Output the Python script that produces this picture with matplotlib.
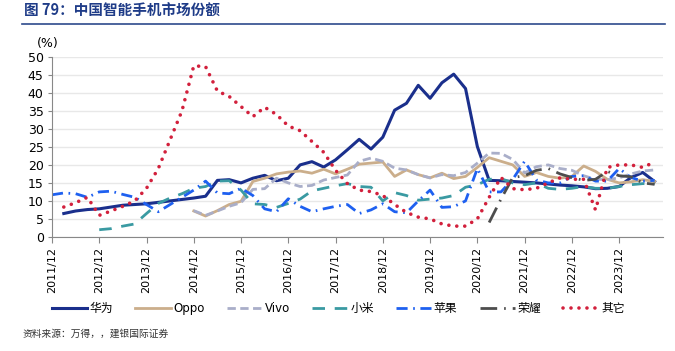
import numpy as np
import pandas as pd
import matplotlib
matplotlib.use("Agg")
import matplotlib.pyplot as plt
from matplotlib.lines import Line2D

plt.rcParams['font.family'] = ['DejaVu Sans', 'Noto Sans CJK SC']

# quarterly data, 2011Q4 .. 2024Q3
quarters = [str(p) for p in pd.period_range('2011Q4', '2024Q3', freq='Q')]
tick_labels = ['2011/12', '2012/12', '2013/12', '2014/12', '2015/12', '2016/12', '2017/12',
               '2018/12', '2019/12', '2020/12', '2021/12', '2022/12', '2023/12']

na = np.nan
huawei = [na, 6.5, 7.2, 7.6, 7.8, 8.3, 8.8, 9.0, 9.2, 9.6, 10.0, 10.4, 10.8, 11.3, 15.7, 15.9,
          15.0, 16.3, 17.1, 15.6, 16.3, 20.0, 20.9, 19.4, 21.4, 24.2, 27.1, 24.4, 27.7, 35.2,
          37.1, 42.1, 38.5, 42.8, 45.2, 41.2, 25.1, 15.7, 15.6, 15.4, 15.2, 15.0, 14.7, 14.4,
          14.2, 13.9, 13.4, 13.5, 14.0, 16.5, 17.9, 15.4]
oppo = [na] * 12 + [7.2, 5.8, 7.3, 9.0, 9.9, 15.4, 16.3, 17.5, 18.0, 18.3, 17.7, 18.8, 17.5,
                    18.8, 20.2, 20.5, 20.8, 16.8, 18.6, 17.3, 16.4, 17.7, 16.2, 16.8, 19.3, 22.0,
                    21.0, 20.0, 16.8, 17.9, 16.8, 16.3, 16.8, 19.7, 18.2, 16.0, 15.0, 15.3, 15.9,
                    15.4]
vivo = [na] * 12 + [7.3, 6.0, 7.2, 8.5, 9.5, 13.2, 13.4, 16.3, 15.0, 14.0, 14.3, 15.8, 16.5,
                    17.2, 21.0, 21.9, 21.0, 19.1, 18.6, 17.3, 16.4, 17.3, 17.0, 17.9, 20.5, 23.3,
                    23.2, 21.5, 17.8, 19.5, 20.0, 19.0, 18.5, 17.0, 16.0, 15.9, 16.4, 17.5, 18.3,
                    18.6]
xiaomi = [na] * 4 + [2.0, 2.3, 3.0, 3.6, 6.5, 9.3, 10.8, 12.0, 13.5, 14.0, 15.5, 15.6, 13.0, 9.2,
                     9.0, 8.2, 9.3, 10.5, 12.8, 13.5, 14.2, 14.8, 14.0, 13.8, 10.0, 12.3, 11.5,
                     10.2, 10.5, 10.8, 11.5, 13.8, 14.5, 16.0, 16.2, 15.0, 14.5, 15.0, 13.5, 13.2,
                     13.5, 14.0, 13.5, 13.5, 14.0, 14.5, 14.8, 14.8]
apple = [11.7, 12.2, 12.0, 11.0, 12.5, 12.7, 11.8, 11.0, 9.0, 7.0, 9.0, 11.0, 13.0, 15.5, 12.2,
         12.0, 13.5, 11.5, 7.8, 7.0, 10.6, 8.5, 7.0, 7.8, 8.5, 9.0, 6.5, 7.5, 9.2, 7.0, 6.7,
         10.0, 13.0, 8.2, 8.4, 10.0, 19.0, 12.5, 12.5, 16.0, 21.0, 15.8, 15.0, 15.0, 16.8, 17.0,
         15.5, 15.5, 19.0, 16.5, 15.5, 15.7]
honor = [na] * 37 + [4.0, 10.5, 16.5, 17.0, 18.5, 19.0, 17.5, 16.5, 15.7, 16.0, 18.2, 17.0, 16.7,
                     15.0, 14.6]
others = [na, 8.3, 9.5, 11.0, 6.0, 7.2, 8.5, 10.0, 13.5, 19.0, 27.0, 35.0, 47.5, 47.3, 40.5,
          39.0, 36.2, 33.4, 36.0, 34.0, 30.8, 29.5, 26.5, 23.5, 18.5, 14.8, 13.0, 12.6, 11.5,
          9.0, 6.8, 5.5, 5.0, 3.6, 3.0, 3.0, 5.0, 11.0, 16.5, 13.4, 13.1, 13.5, 15.0, 16.4, 16.0,
          16.0, 7.5, 19.3, 20.0, 20.0, 19.3, 20.8]

x = np.arange(len(quarters))

fig = plt.figure(figsize=(6.75, 3.51), dpi=100)
ax = fig.add_axes([0.077, 0.325, 0.905, 0.513])

ax.plot(x, huawei, color='#1A2F8C', lw=2.2, label='华为')
ax.plot(x, oppo, color='#CBAE8B', lw=2.0, label='Oppo')
ax.plot(x, vivo, color='#A9AEC9', lw=2.0, ls=(0, (3, 1.6)), label='Vivo')
ax.plot(x, xiaomi, color='#3A9AA2', lw=2.0, ls=(0, (4.5, 3.5)), label='小米')
ax.plot(x, apple, color='#1E60F0', lw=2.0, ls=(0, (4, 2, 0.6, 2)), label='苹果')
ax.plot(x, honor, color='#4D4D4D', lw=2.0, ls=(0, (6, 2.5, 0.6, 2.5)), label='荣耀')
ax.plot(x, others, color='#D2203C', lw=2.6, ls=(0, (0.01, 2.2)), dash_capstyle='round',
        label='其它')

ax.set_xlim(0, 51.7)
ax.set_ylim(0, 50)
ax.set_yticks(range(0, 51, 5))
ax.set_xticks(range(0, 49, 4))
ax.set_xticklabels(tick_labels, rotation=90, fontsize=8)
ax.tick_params(axis='y', labelsize=9, length=3, color='#888888', pad=3)
ax.tick_params(axis='x', length=4, color='#888888', pad=3)
ax.grid(axis='y', color='#E8E8E8', lw=1)
ax.set_axisbelow(True)
for s in ['top', 'right']:
    ax.spines[s].set_visible(False)
ax.spines['left'].set_color('#888888')
ax.spines['bottom'].set_color('#888888')

fig.text(0.071, 0.875, '(%)', ha='center', va='center', fontsize=9)

fig.text(0.035, 0.968, '图 79：中国智能手机市场份额', fontsize=10.5, fontweight='bold',
         color='#1F3C88', va='center', family=['Noto Sans CJK SC'])
fig.add_artist(Line2D([0.032, 0.985], [0.933, 0.933], color='#2E4A8C', lw=1.2))

fig.legend(loc='center', bbox_to_anchor=(0.501, 0.12), ncol=7, frameon=False, fontsize=8.5,
           handlelength=3.0, columnspacing=1.9, handletextpad=0.2, borderpad=0.2)

fig.text(0.033, 0.05, '资料来源：万得，，建银国际证券', fontsize=7, color='#333333',
         va='center', family=['Noto Sans CJK SC'])

fig.savefig('out.png', dpi=100)
